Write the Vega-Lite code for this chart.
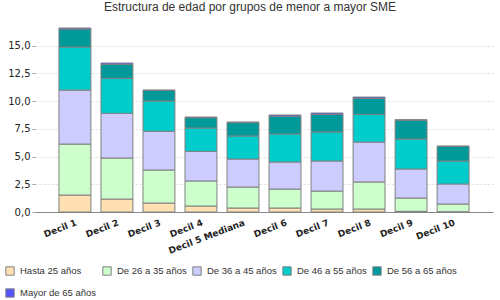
{
  "$schema": "https://vega.github.io/schema/vega-lite/v6.json",
  "width": 458,
  "height": 184,
  "autosize": {"type": "none"},
  "padding": {"left": 35, "top": 28, "right": 7, "bottom": 88},
  "background": "white",
  "title": {
    "text": "Estructura de edad por grupos de menor a mayor SME",
    "font": "Liberation Sans",
    "fontSize": 12,
    "fontWeight": "normal",
    "color": "#333333",
    "anchor": "middle",
    "frame": "group",
    "baseline": "alphabetic",
    "offset": 5,
    "dx": -14
  },
  "config": {
    "view": {"stroke": null},
    "legend": {
      "orient": "none",
      "legendX": -30,
      "legendY": 238,
      "direction": "horizontal",
      "columns": 5,
      "gridAlign": "none",
      "symbolType": "square",
      "symbolSize": 70,
      "symbolStrokeColor": "#808080",
      "symbolStrokeWidth": 1,
      "symbolOpacity": 1,
      "labelFont": "Liberation Sans",
      "labelFontSize": 9.5,
      "labelColor": "#333333",
      "labelOffset": 5,
      "columnPadding": 3,
      "rowPadding": 8,
      "labelLimit": 200,
      "title": null
    }
  },
  "data": {
    "values": [
      {"decil": "Decil 1", "grupo": "Hasta 25 años", "orden": 1, "valor": 1.53},
      {"decil": "Decil 1", "grupo": "De 26 a 35 años", "orden": 2, "valor": 4.60},
      {"decil": "Decil 1", "grupo": "De 36 a 45 años", "orden": 3, "valor": 4.87},
      {"decil": "Decil 1", "grupo": "De 46 a 55 años", "orden": 4, "valor": 3.88},
      {"decil": "Decil 1", "grupo": "De 56 a 65 años", "orden": 5, "valor": 1.62},
      {"decil": "Decil 1", "grupo": "Mayor de 65 años", "orden": 6, "valor": 0.10},
      {"decil": "Decil 2", "grupo": "Hasta 25 años", "orden": 1, "valor": 1.17},
      {"decil": "Decil 2", "grupo": "De 26 a 35 años", "orden": 2, "valor": 3.70},
      {"decil": "Decil 2", "grupo": "De 36 a 45 años", "orden": 3, "valor": 4.03},
      {"decil": "Decil 2", "grupo": "De 46 a 55 años", "orden": 4, "valor": 3.16},
      {"decil": "Decil 2", "grupo": "De 56 a 65 años", "orden": 5, "valor": 1.26},
      {"decil": "Decil 2", "grupo": "Mayor de 65 años", "orden": 6, "valor": 0.12},
      {"decil": "Decil 3", "grupo": "Hasta 25 años", "orden": 1, "valor": 0.81},
      {"decil": "Decil 3", "grupo": "De 26 a 35 años", "orden": 2, "valor": 2.98},
      {"decil": "Decil 3", "grupo": "De 36 a 45 años", "orden": 3, "valor": 3.49},
      {"decil": "Decil 3", "grupo": "De 46 a 55 años", "orden": 4, "valor": 2.73},
      {"decil": "Decil 3", "grupo": "De 56 a 65 años", "orden": 5, "valor": 0.96},
      {"decil": "Decil 3", "grupo": "Mayor de 65 años", "orden": 6, "valor": 0.03},
      {"decil": "Decil 4", "grupo": "Hasta 25 años", "orden": 1, "valor": 0.54},
      {"decil": "Decil 4", "grupo": "De 26 a 35 años", "orden": 2, "valor": 2.26},
      {"decil": "Decil 4", "grupo": "De 36 a 45 años", "orden": 3, "valor": 2.67},
      {"decil": "Decil 4", "grupo": "De 46 a 55 años", "orden": 4, "valor": 2.11},
      {"decil": "Decil 4", "grupo": "De 56 a 65 años", "orden": 5, "valor": 0.93},
      {"decil": "Decil 4", "grupo": "Mayor de 65 años", "orden": 6, "valor": 0.06},
      {"decil": "Decil 5 Mediana", "grupo": "Hasta 25 años", "orden": 1, "valor": 0.36},
      {"decil": "Decil 5 Mediana", "grupo": "De 26 a 35 años", "orden": 2, "valor": 1.89},
      {"decil": "Decil 5 Mediana", "grupo": "De 36 a 45 años", "orden": 3, "valor": 2.53},
      {"decil": "Decil 5 Mediana", "grupo": "De 46 a 55 años", "orden": 4, "valor": 2.08},
      {"decil": "Decil 5 Mediana", "grupo": "De 56 a 65 años", "orden": 5, "valor": 1.20},
      {"decil": "Decil 5 Mediana", "grupo": "Mayor de 65 años", "orden": 6, "valor": 0.06},
      {"decil": "Decil 6", "grupo": "Hasta 25 años", "orden": 1, "valor": 0.36},
      {"decil": "Decil 6", "grupo": "De 26 a 35 años", "orden": 2, "valor": 1.71},
      {"decil": "Decil 6", "grupo": "De 36 a 45 años", "orden": 3, "valor": 2.44},
      {"decil": "Decil 6", "grupo": "De 46 a 55 años", "orden": 4, "valor": 2.53},
      {"decil": "Decil 6", "grupo": "De 56 a 65 años", "orden": 5, "valor": 1.59},
      {"decil": "Decil 6", "grupo": "Mayor de 65 años", "orden": 6, "valor": 0.12},
      {"decil": "Decil 7", "grupo": "Hasta 25 años", "orden": 1, "valor": 0.27},
      {"decil": "Decil 7", "grupo": "De 26 a 35 años", "orden": 2, "valor": 1.62},
      {"decil": "Decil 7", "grupo": "De 36 a 45 años", "orden": 3, "valor": 2.71},
      {"decil": "Decil 7", "grupo": "De 46 a 55 años", "orden": 4, "valor": 2.62},
      {"decil": "Decil 7", "grupo": "De 56 a 65 años", "orden": 5, "valor": 1.59},
      {"decil": "Decil 7", "grupo": "Mayor de 65 años", "orden": 6, "valor": 0.12},
      {"decil": "Decil 8", "grupo": "Hasta 25 años", "orden": 1, "valor": 0.27},
      {"decil": "Decil 8", "grupo": "De 26 a 35 años", "orden": 2, "valor": 2.44},
      {"decil": "Decil 8", "grupo": "De 36 a 45 años", "orden": 3, "valor": 3.60},
      {"decil": "Decil 8", "grupo": "De 46 a 55 años", "orden": 4, "valor": 2.50},
      {"decil": "Decil 8", "grupo": "De 56 a 65 años", "orden": 5, "valor": 1.44},
      {"decil": "Decil 8", "grupo": "Mayor de 65 años", "orden": 6, "valor": 0.12},
      {"decil": "Decil 9", "grupo": "Hasta 25 años", "orden": 1, "valor": 0.06},
      {"decil": "Decil 9", "grupo": "De 26 a 35 años", "orden": 2, "valor": 1.20},
      {"decil": "Decil 9", "grupo": "De 36 a 45 años", "orden": 3, "valor": 2.62},
      {"decil": "Decil 9", "grupo": "De 46 a 55 años", "orden": 4, "valor": 2.70},
      {"decil": "Decil 9", "grupo": "De 56 a 65 años", "orden": 5, "valor": 1.69},
      {"decil": "Decil 9", "grupo": "Mayor de 65 años", "orden": 6, "valor": 0.06},
      {"decil": "Decil 10", "grupo": "Hasta 25 años", "orden": 1, "valor": 0.02},
      {"decil": "Decil 10", "grupo": "De 26 a 35 años", "orden": 2, "valor": 0.70},
      {"decil": "Decil 10", "grupo": "De 36 a 45 años", "orden": 3, "valor": 1.81},
      {"decil": "Decil 10", "grupo": "De 46 a 55 años", "orden": 4, "valor": 2.07},
      {"decil": "Decil 10", "grupo": "De 56 a 65 años", "orden": 5, "valor": 1.32},
      {"decil": "Decil 10", "grupo": "Mayor de 65 años", "orden": 6, "valor": 0.03}
    ]
  },
  "mark": {"type": "bar", "stroke": "#808080", "strokeWidth": 1, "opacity": 1},
  "encoding": {
    "x": {
      "field": "decil",
      "type": "nominal",
      "sort": null,
      "title": null,
      "scale": {"paddingInner": 0.24, "paddingOuter": 0.57},
      "axis": {
        "labelAngle": -21,
        "labelAlign": "right",
        "labelBaseline": "top",
        "labelPadding": 6,
        "labelFont": "DejaVu Sans",
        "labelFontWeight": "bold",
        "labelFontSize": 9,
        "labelColor": "#222222",
        "labelLimit": 200,
        "ticks": false,
        "domain": true,
        "domainColor": "#888888",
        "domainWidth": 1,
        "grid": false
      }
    },
    "y": {
      "field": "valor",
      "type": "quantitative",
      "stack": "zero",
      "title": null,
      "scale": {"domain": [0, 16.6], "nice": false, "zero": true},
      "axis": {
        "values": [0, 2.5, 5, 7.5, 10, 12.5, 15],
        "labelExpr": "replace(format(datum.value, '.1f'), '.', ',')",
        "labelFont": "DejaVu Sans",
        "labelFontSize": 10,
        "labelColor": "#222222",
        "labelPadding": 2,
        "domain": false,
        "ticks": true,
        "tickSize": 3,
        "tickColor": "#999999",
        "grid": true,
        "gridColor": "#dddddd",
        "gridDash": [2, 2],
        "gridWidth": 1
      }
    },
    "color": {
      "field": "grupo",
      "type": "nominal",
      "sort": ["Hasta 25 años", "De 26 a 35 años", "De 36 a 45 años", "De 46 a 55 años", "De 56 a 65 años", "Mayor de 65 años"],
      "scale": {
        "domain": ["Hasta 25 años", "De 26 a 35 años", "De 36 a 45 años", "De 46 a 55 años", "De 56 a 65 años", "Mayor de 65 años"],
        "range": ["#FFE0B2", "#CCFFCC", "#CCCCFF", "#00CCCC", "#009999", "#5555FF"]
      },
      "legend": {"title": null}
    },
    "order": {"field": "orden", "type": "quantitative", "sort": "ascending"}
  }
}
